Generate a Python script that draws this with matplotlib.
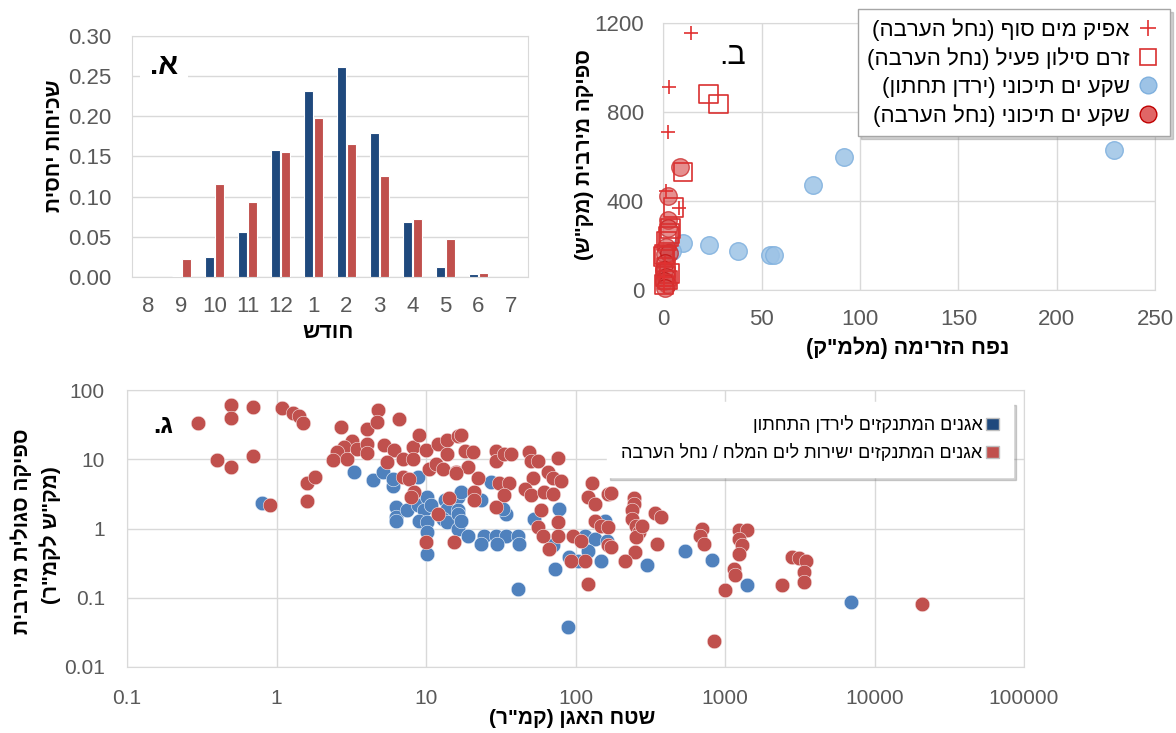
import matplotlib
matplotlib.use("Agg")
import matplotlib.pyplot as plt
from matplotlib.lines import Line2D
from matplotlib.patches import Patch

plt.rcParams['font.family'] = ['Liberation Sans', 'DejaVu Sans']

W, H = 1176, 733
GRID = '#D9D9D9'
TICK = '#595959'
DARKBLUE = '#1F497D'
RED = '#C0504D'
BLUE = '#4F81BD'


def heb(s):
    # matplotlib has no bidi: reverse to visual order and mirror brackets
    swap = {'(': ')', ')': '('}
    return ''.join(swap.get(c, c) for c in reversed(s))


def box(l, t, r, b):
    return [l / W, 1 - b / H, (r - l) / W, (b - t) / H]


# ---- panel A: monthly relative frequency
months = ['8', '9', '10', '11', '12', '1', '2', '3', '4', '5', '6', '7']
freq_jordan = [0, 0.001, 0.025, 0.056, 0.158, 0.232, 0.262, 0.179, 0.069, 0.013, 0.004, 0]
freq_arava = [0, 0.022, 0.116, 0.093, 0.155, 0.198, 0.165, 0.126, 0.072, 0.047, 0.005, 0]

# ---- panel B: peak discharge vs flow volume
plus_x = [14, 3, 2.4, 8, 1.5, 1, 0.5, 0.3]
plus_y = [1155, 910, 710, 370, 445, 120, 60, 20]
sq_x = [23, 28, 10, 5, 3, 1.5, 0, 2.5, 3, 0.2, 1, 2, 3.5, 0.5, 1.2]
sq_y = [880, 835, 530, 370, 255, 220, 150, 240, 75, 25, 60, 45, 275, 160, 100]
jor_x = [10, 23, 38, 54, 56, 76, 92, 229, 4.5]
jor_y = [210, 203, 173, 158, 158, 472, 598, 630, 175]
ara_x = [8.5, 2.2, 2.2, 2.5, 1.5, 0.8, 3, 1, 0.5, 1.5, 0.3, 2, 0.8]
ara_y = [550, 420, 315, 280, 195, 160, 165, 120, 90, 60, 40, 25, 10]

# ---- panel C: specific peak discharge vs basin area
red_area = [0.30, 0.5, 0.5, 0.70, 0.40, 0.5, 0.70, 0.90, 1.09, 1.29, 1.41, 1.51, 1.61, 1.80, 1.61,
            2.69, 4.0, 4.79, 4.7, 6.6, 3.22, 2.83, 2.55, 2.4, 2.98, 3.48, 4.0, 4.0, 5.25, 6.13,
            5.5, 6.97, 8.15, 8.15, 9.0, 10.0, 12.0, 13.9, 16.3, 13.9, 6.97, 7.7, 10.5, 11.7, 12.9,
            15.9, 8.3, 7.9, 12, 14.3, 10, 15.5,
            17.2, 18.1, 20.6, 19.1, 15.9, 22.2, 29.5, 29.5, 33.4, 37, 31, 36, 33.4, 21, 21, 29.5,
            48.5, 50.6, 56, 76, 52, 45.7, 50.6, 65.5, 70.6, 80.5, 62, 70.6, 59, 56, 60.7, 76, 76,
            67, 96, 109, 94, 116, 128, 121, 134, 165, 134, 149, 165, 165, 121,
            174, 245, 245, 240, 240, 255, 265, 255, 277, 342, 375, 350, 249, 215, 174,
            700, 680, 720, 1240, 1400, 1240, 1300, 1240, 1140, 1170, 1000, 840, 2410, 2800, 3150,
            3500, 3400, 3400, 20700]
red_q = [33, 60, 40, 56, 9.8, 7.85, 11.3, 2.17, 55, 46, 42.7, 33, 4.57, 5.5, 2.48,
         29.6, 27.5, 51.6, 34, 38, 18.6, 14.9, 12.6, 9.6, 10.1, 14.1, 16.7, 12.2, 15.8, 13.4,
         9.06, 10.1, 14.9, 10.1, 22.7, 13.7, 16.7, 19.1, 22, 12, 5.6, 5.2, 7.3, 8.6, 7.3,
         6.5, 3.34, 2.83, 1.63, 2.77, 0.63, 0.63,
         22.7, 13, 12.6, 7.85, 6.3, 5.4, 13, 9.3, 12, 12, 4.5, 4.5, 3.0, 3.34, 2.54, 2.03,
         12.6, 9.3, 9.3, 10.4, 5.4, 3.74, 3.0, 6.5, 5.4, 4.93, 3.34, 3.17, 1.82, 1.04, 0.79, 1.23, 0.79,
         0.51, 0.79, 0.67, 0.345, 0.345, 4.5, 2.83, 2.27, 3.17, 1.30, 1.10, 1.04, 0.57, 0.16,
         3.23, 2.77, 2.27, 1.82, 1.38, 1.10, 0.88, 0.75, 1.10, 1.66, 1.49, 0.59, 0.455, 0.34, 0.54,
         0.99, 0.79, 0.60, 0.94, 0.96, 0.71, 0.57, 0.43, 0.26, 0.21, 0.128, 0.024, 0.155, 0.385, 0.38,
         0.345, 0.235, 0.168, 0.082]
blue_area = [0.80, 3.3, 4.39, 5.12, 5.97, 5.97, 8.8, 6.3, 6.3, 6.3, 7.5, 8.8, 10.2, 9.7, 8.96,
             10.2, 10.8, 10.2, 10.2, 13.3, 13.9, 12.9, 13.9, 16.3, 16.3, 16.3,
             27.3, 17.2, 23.4, 16.3, 17.2, 19, 34.3, 32.6, 24.6, 29.5, 34.3, 41, 23.4, 30, 41.6,
             41, 53, 78, 70.6, 72.4, 89, 91, 116, 134, 157, 149, 104, 121,
             162, 300, 540, 818, 1400, 6980]
blue_q = [2.35, 6.6, 5.05, 6.5, 4.17, 5.2, 5.6, 2.03, 1.46, 1.27, 1.82, 2.15, 2.83, 1.82, 1.30,
          1.23, 2.15, 0.88, 0.43, 2.54, 1.92, 1.38, 1.23, 2.83, 1.82, 0.99,
          4.66, 3.34, 2.6, 1.63, 1.30, 0.79, 1.63, 1.92, 0.79, 0.79, 0.79, 0.79, 0.59, 0.59, 0.59,
          0.135, 1.38, 1.92, 0.57, 0.26, 0.038, 0.39, 0.79, 0.71, 1.30, 0.345, 0.345, 0.48,
          0.67, 0.30, 0.48, 0.354, 0.155, 0.0865]

fig = plt.figure(figsize=(W / 100, H / 100), dpi=100, facecolor='white')

# ================= panel A
axA = fig.add_axes(box(132, 36, 528, 277))
xs = list(range(len(months)))
axA.bar([x - 0.155 for x in xs], freq_jordan, width=0.29, color=DARKBLUE, edgecolor='white', linewidth=0.8, zorder=3)
axA.bar([x + 0.155 for x in xs], freq_arava, width=0.29, color=RED, edgecolor='white', linewidth=0.8, zorder=3)
axA.set_xlim(-0.5, 11.5)
axA.set_ylim(0, 0.30)
axA.set_xticks(xs)
axA.set_xticklabels(months)
axA.set_yticks([0, 0.05, 0.10, 0.15, 0.20, 0.25, 0.30])
axA.set_yticklabels(['%.2f' % v for v in [0, 0.05, 0.10, 0.15, 0.20, 0.25, 0.30]])
axA.yaxis.grid(True, color=GRID, lw=1, zorder=0)
axA.tick_params(length=0, labelsize=16, colors=TICK)
axA.tick_params(axis='y', pad=15)
axA.tick_params(axis='x', pad=14)
for s in axA.spines.values():
    s.set_color(GRID)
axA.text(0.045, 0.875, heb('א.'), transform=axA.transAxes, fontsize=21, fontweight='bold', ha='left', va='center',
         bbox=dict(facecolor='white', edgecolor='none', pad=7), zorder=5)
fig.text(55 / W, 1 - 146 / H, heb('שכיחות יחסית'), rotation=90, ha='center', va='center',
         fontsize=15, fontweight='bold')
fig.text(328 / W, 1 - 333 / H, heb('חודש'), ha='center', va='center', fontsize=15.5, fontweight='bold')

# ================= panel B
axB = fig.add_axes(box(663.5, 22.7, 1155, 290))
axB.scatter(jor_x, jor_y, s=160, facecolor='#9DC3E6', edgecolor='#7FB0DE', alpha=0.85, lw=1, zorder=3, clip_on=False)
axB.scatter(ara_x, ara_y, s=160, facecolor='#D64545', edgecolor='#C00000', alpha=0.6, lw=1, zorder=4, clip_on=False)
axB.scatter(sq_x, sq_y, s=180, marker='s', facecolor='none', edgecolor='#D93030', lw=1.2, zorder=4, clip_on=False)
axB.scatter(plus_x, plus_y, s=100, marker='+', color='#E03030', lw=1.2, zorder=5, clip_on=False)
axB.set_xlim(0, 250)
axB.set_ylim(0, 1200)
axB.set_xticks([0, 50, 100, 150, 200, 250])
axB.set_yticks([0, 400, 800, 1200])
axB.grid(True, color=GRID, lw=1, zorder=0)
axB.set_axisbelow(True)
axB.tick_params(length=0, labelsize=16, colors=TICK)
axB.tick_params(axis='y', pad=14)
axB.tick_params(axis='x', pad=14)
for s in axB.spines.values():
    s.set_color(GRID)
axB.text(0.14, 0.875, heb('ב.'), transform=axB.transAxes, fontsize=22, ha='center', va='center', zorder=6)
handlesB = [
    Line2D([], [], ls='none', marker='+', color='#E03030', ms=11, mew=1.2),
    Line2D([], [], ls='none', marker='s', mfc='none', mec='#D93030', ms=12, mew=1.2),
    Line2D([], [], ls='none', marker='o', mfc='#9DC3E6', mec='#7FB0DE', ms=12),
    Line2D([], [], ls='none', marker='o', mfc='#E06666', mec='#C00000', ms=12),
]
labelsB = [heb('אפיק מים סוף (נחל הערבה)'), heb('זרם סילון פעיל (נחל הערבה)'),
           heb('שקע ים תיכוני (ירדן תחתון)'), heb('שקע ים תיכוני (נחל הערבה)')]
legB = axB.legend(handlesB, labelsB, loc='upper right', bbox_to_anchor=(1.03, 1.05), borderaxespad=0,
                  markerfirst=False, fontsize=16, frameon=True, fancybox=False, framealpha=1,
                  edgecolor='#A6A6A6', shadow={'color': '0.5', 'alpha': 0.35}, handletextpad=0.2,
                  handlelength=1.2, labelspacing=0.3, borderpad=0.4)
legB.set_zorder(10)
fig.text(584 / W, 1 - 155 / H, heb('ספיקה מירבית (מק"ש)'), rotation=90, ha='center', va='center',
         fontsize=15, fontweight='bold')
fig.text(908 / W, 1 - 348 / H, heb('נפח הזרימה (מלמ"ק)'), ha='center', va='center', fontsize=15.5, fontweight='bold')

# ================= panel C
axC = fig.add_axes(box(127, 390, 1024, 667))
axC.scatter(blue_area, blue_q, s=110, color=BLUE, edgecolor='#EAF1FA', lw=0.4, zorder=3)
axC.scatter(red_area, red_q, s=110, color=RED, edgecolor='#F7E6E6', lw=0.4, zorder=4)
axC.set_xscale('log')
axC.set_yscale('log')
axC.set_xlim(0.1, 100000)
axC.set_ylim(0.01, 100)
xt = [0.1, 1, 10, 100, 1000, 10000, 100000]
yt = [0.01, 0.1, 1, 10, 100]
axC.set_xticks(xt)
axC.set_xticklabels(['0.1', '1', '10', '100', '1000', '10000', '100000'])
axC.set_yticks(yt)
axC.set_yticklabels(['0.01', '0.1', '1', '10', '100'])
axC.minorticks_off()
axC.grid(True, color=GRID, lw=1, zorder=0)
axC.set_axisbelow(True)
axC.tick_params(length=0, labelsize=15, colors=TICK)
axC.tick_params(axis='y', pad=16)
axC.tick_params(axis='x', pad=16)
for s in axC.spines.values():
    s.set_color(GRID)
axC.text(0.04, 0.87, heb('ג.'), transform=axC.transAxes, fontsize=19, fontweight='bold', ha='center', va='center', zorder=6)
handlesC = [Patch(facecolor=DARKBLUE, edgecolor='#BFBFBF'), Patch(facecolor=RED, edgecolor='#BFBFBF')]
labelsC = [heb('אגנים המתנקזים לירדן התחתון'), heb('אגנים המתנקזים ישירות לים המלח / נחל הערבה')]
legC = axC.legend(handlesC, labelsC, loc='upper right', bbox_to_anchor=(0.988, 0.957), borderaxespad=0,
                  markerfirst=False, fontsize=13, frameon=True, fancybox=False, framealpha=1,
                  edgecolor='white', shadow={'color': '0.5', 'alpha': 0.35}, handlelength=0.7,
                  handleheight=0.7, handletextpad=0.2, labelspacing=0.55, borderpad=0.8)
legC.set_zorder(10)
fig.text(21 / W, 1 - 531 / H, heb('ספיקה סגולית מירבית'), rotation=90, ha='center', va='center',
         fontsize=15, fontweight='bold')
fig.text(50 / W, 1 - 535 / H, heb('(מק"ש לקמ"ר)'), rotation=90, ha='center', va='center',
         fontsize=15, fontweight='bold')
fig.text(572 / W, 1 - 719 / H, heb('שטח האגן (קמ"ר)'), ha='center', va='center', fontsize=15, fontweight='bold')

fig.savefig('out.png', dpi=100, facecolor='white')
